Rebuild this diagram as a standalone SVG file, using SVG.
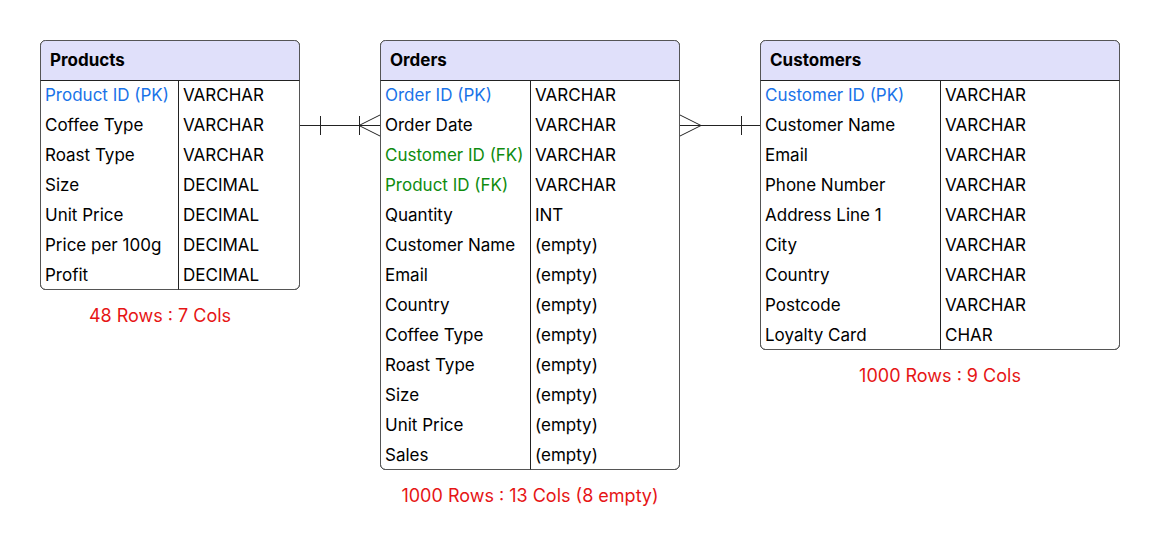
<svg xmlns="http://www.w3.org/2000/svg" width="1161" height="560" viewBox="0 0 1161 560">
<style>
text{font-family:Inter,"Liberation Sans",sans-serif;font-size:17px;fill:#000;dominant-baseline:central}
.h{font-weight:bold}
.pk{fill:#1a73e8}
.fk{fill:#0f8c0f}
.note{fill:#e61515;text-anchor:middle;font-size:18px}
.box{fill:#fff;stroke:#555;stroke-width:1}
.hd{fill:#e0e0fa}
.ln{stroke:#222;stroke-width:1;fill:none}
.cn{stroke:#222;stroke-width:1;fill:none}
</style>
<rect width="1161" height="560" fill="#fff"/>
<g id="products">
<rect class="box" x="40.5" y="40.5" width="259" height="249" rx="5"/>
<path class="hd" d="M41 80V45.5a5 5 0 0 1 5-5h248a5 5 0 0 1 5 5V80z"/>
<rect x="40.5" y="40.5" width="259" height="249" rx="5" fill="none" stroke="#555"/>
<path class="ln" d="M40.5 80.5H299.5M178.5 80.5V289.5"/>
<text class="h" x="50" y="60">Products</text>
<text class="pk" x="45" y="95">Product ID (PK)</text><text x="183" y="95">VARCHAR</text>
<text x="45" y="125">Coffee Type</text><text x="183" y="125">VARCHAR</text>
<text x="45" y="155">Roast Type</text><text x="183" y="155">VARCHAR</text>
<text x="45" y="185">Size</text><text x="183" y="185">DECIMAL</text>
<text x="45" y="215">Unit Price</text><text x="183" y="215">DECIMAL</text>
<text x="45" y="245">Price per 100g</text><text x="183" y="245">DECIMAL</text>
<text x="45" y="275">Profit</text><text x="183" y="275">DECIMAL</text>
<text class="note" x="160" y="315">48 Rows : 7 Cols</text>
</g>
<g id="orders">
<rect class="box" x="380.5" y="40.5" width="299" height="429" rx="5"/>
<path class="hd" d="M381 80V45.5a5 5 0 0 1 5-5h288a5 5 0 0 1 5 5V80z"/>
<rect x="380.5" y="40.5" width="299" height="429" rx="5" fill="none" stroke="#555"/>
<path class="ln" d="M380.5 80.5H679.5M530.5 80.5V469.5"/>
<text class="h" x="390" y="60">Orders</text>
<text class="pk" x="385" y="95">Order ID (PK)</text><text x="535" y="95">VARCHAR</text>
<text x="385" y="125">Order Date</text><text x="535" y="125">VARCHAR</text>
<text class="fk" x="385" y="155">Customer ID (FK)</text><text x="535" y="155">VARCHAR</text>
<text class="fk" x="385" y="185">Product ID (FK)</text><text x="535" y="185">VARCHAR</text>
<text x="385" y="215">Quantity</text><text x="535" y="215">INT</text>
<text x="385" y="245">Customer Name</text><text x="535" y="245">(empty)</text>
<text x="385" y="275">Email</text><text x="535" y="275">(empty)</text>
<text x="385" y="305">Country</text><text x="535" y="305">(empty)</text>
<text x="385" y="335">Coffee Type</text><text x="535" y="335">(empty)</text>
<text x="385" y="365">Roast Type</text><text x="535" y="365">(empty)</text>
<text x="385" y="395">Size</text><text x="535" y="395">(empty)</text>
<text x="385" y="425">Unit Price</text><text x="535" y="425">(empty)</text>
<text x="385" y="455">Sales</text><text x="535" y="455">(empty)</text>
<text class="note" x="530" y="495">1000 Rows : 13 Cols (8 empty)</text>
</g>
<g id="customers">
<rect class="box" x="760.5" y="40.5" width="359" height="309" rx="5"/>
<path class="hd" d="M761 80V45.5a5 5 0 0 1 5-5h348a5 5 0 0 1 5 5V80z"/>
<rect x="760.5" y="40.5" width="359" height="309" rx="5" fill="none" stroke="#555"/>
<path class="ln" d="M760.5 80.5H1119.5M940.5 80.5V349.5"/>
<text class="h" x="770" y="60">Customers</text>
<text class="pk" x="765" y="95">Customer ID (PK)</text><text x="945" y="95">VARCHAR</text>
<text x="765" y="125">Customer Name</text><text x="945" y="125">VARCHAR</text>
<text x="765" y="155">Email</text><text x="945" y="155">VARCHAR</text>
<text x="765" y="185">Phone Number</text><text x="945" y="185">VARCHAR</text>
<text x="765" y="215">Address Line 1</text><text x="945" y="215">VARCHAR</text>
<text x="765" y="245">City</text><text x="945" y="245">VARCHAR</text>
<text x="765" y="275">Country</text><text x="945" y="275">VARCHAR</text>
<text x="765" y="305">Postcode</text><text x="945" y="305">VARCHAR</text>
<text x="765" y="335">Loyalty Card</text><text x="945" y="335">CHAR</text>
<text class="note" x="940" y="375">1000 Rows : 9 Cols</text>
</g>
<g id="connectors">
<path class="cn" d="M300 125.5H380M320.5 116V135M359.5 116V135M359 125.5L380 115M359 125.5L380 136"/>
<path class="cn" d="M680 125.5H760M741.5 116V135M701 125.5L680 115M701 125.5L680 136"/>
</g>
</svg>
